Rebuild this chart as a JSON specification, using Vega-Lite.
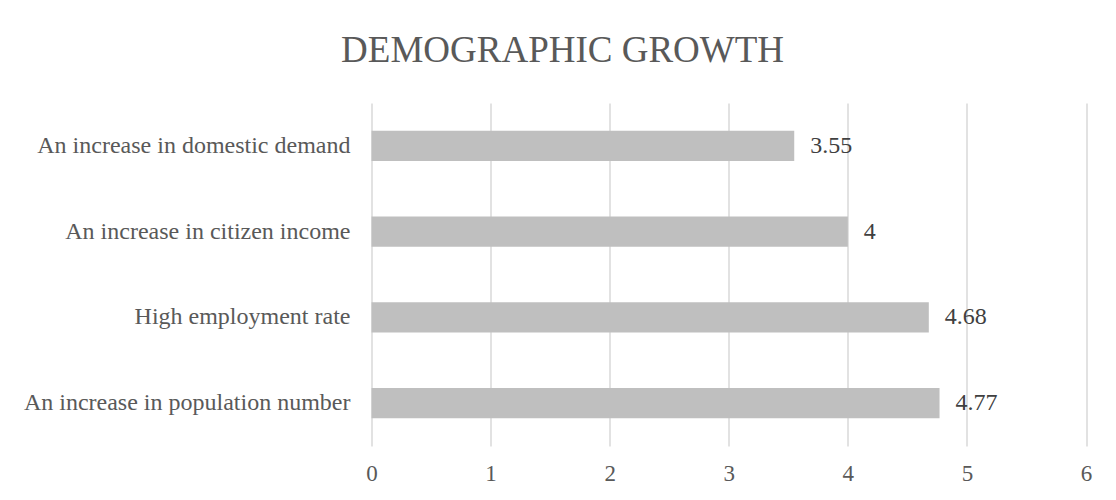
{
  "$schema": "https://vega.github.io/schema/vega-lite/v6.json",
  "autosize": {"type": "none"},
  "width": 714.5,
  "height": 343,
  "padding": {"left": 371.5, "top": 103, "right": 30, "bottom": 54},
  "background": "white",
  "title": {
    "text": "DEMOGRAPHIC GROWTH",
    "font": "Liberation Serif",
    "fontSize": 37,
    "fontWeight": "normal",
    "color": "#595959",
    "anchor": "middle",
    "frame": "bounds",
    "baseline": "alphabetic",
    "offset": 4,
    "dx": 5
  },
  "data": {
    "values": [
      {"factor": "An increase in domestic demand", "value": 3.55},
      {"factor": "An increase in citizen income", "value": 4},
      {"factor": "High employment rate", "value": 4.68},
      {"factor": "An increase in population number", "value": 4.77}
    ]
  },
  "config": {
    "view": {"stroke": null},
    "font": "Liberation Serif"
  },
  "encoding": {
    "y": {
      "field": "factor",
      "type": "nominal",
      "sort": null,
      "scale": {"paddingInner": 0.65, "paddingOuter": 0.325},
      "axis": {
        "title": null,
        "domain": false,
        "ticks": false,
        "labelPadding": 21.5,
        "labelFont": "Liberation Serif",
        "labelFontSize": 24,
        "labelColor": "#595959",
        "labelLimit": 400
      }
    },
    "x": {
      "field": "value",
      "type": "quantitative",
      "scale": {"domain": [0, 6], "nice": false},
      "axis": {
        "title": null,
        "domain": false,
        "ticks": false,
        "values": [0, 1, 2, 3, 4, 5, 6],
        "grid": true,
        "gridColor": "#d9d9d9",
        "gridWidth": 1.5,
        "labelPadding": 16,
        "labelFont": "Liberation Serif",
        "labelFontSize": 23,
        "labelColor": "#595959",
        "labelFlush": false
      }
    }
  },
  "layer": [
    {"mark": {"type": "bar", "color": "#bfbfbf"}},
    {
      "mark": {
        "type": "text",
        "align": "left",
        "baseline": "middle",
        "dx": 16,
        "font": "Liberation Serif",
        "fontSize": 24,
        "color": "#404040"
      },
      "encoding": {"text": {"field": "value", "type": "quantitative"}}
    }
  ]
}
